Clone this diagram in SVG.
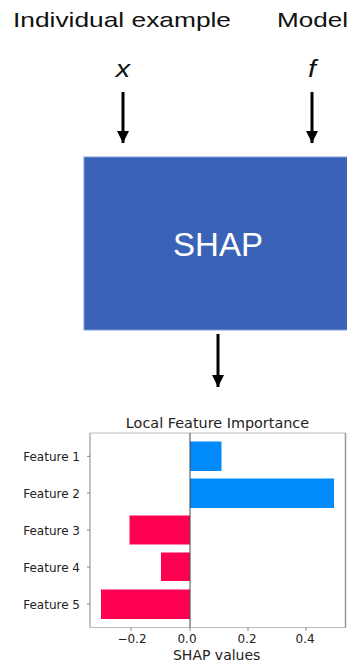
<svg xmlns="http://www.w3.org/2000/svg" width="347" height="662" viewBox="0 0 347 662">
<style>
.hdr{font-family:"Liberation Sans",Arial,sans-serif;font-size:21px;fill:#111}
.var{font-family:"Liberation Sans",Arial,sans-serif;font-size:23px;font-style:italic;fill:#111}
.conn{stroke:#000;stroke-width:3;fill:none}
.mpl{font-family:"DejaVu Sans",sans-serif;fill:#222}
.ylab{font-size:12px;text-anchor:end}
.xlab{font-size:12px;text-anchor:middle}
.pos{fill:#008AFA}
.neg{fill:#FF0051}
.tick{stroke:#666;stroke-width:0.8}
</style>
<defs>
<marker id="ah" markerUnits="userSpaceOnUse" markerWidth="12" markerHeight="12" viewBox="0 0 12 12" refX="12" refY="6" orient="auto">
<path d="M0,0 L12,6 L0,12 Z" fill="#000"/>
</marker>
</defs>
<g id="label-input">
<text class="hdr" x="13" y="27" textLength="218" lengthAdjust="spacingAndGlyphs">Individual example</text>
<g transform="translate(123,0) scale(1.25,1)"><text class="var" x="0" y="77" text-anchor="middle">x</text></g>
</g>
<g id="label-model">
<text class="hdr" x="277" y="27" textLength="71" lengthAdjust="spacingAndGlyphs">Model</text>
<g transform="translate(312,0) scale(1.25,1)"><text class="var" x="0" y="77" text-anchor="middle">f</text></g>
</g>
<g id="shap">
<rect x="84" y="157" width="270" height="173" fill="#3A63B8" stroke="#7E9DD8" stroke-width="1"/>
<text x="218" y="256" text-anchor="middle" font-family="'Liberation Sans',Arial,sans-serif" font-size="33" fill="#fff">SHAP</text>
</g>
<g id="connectors">
<line class="conn" x1="123" y1="92" x2="123" y2="143" marker-end="url(#ah)"/>
<line class="conn" x1="312" y1="92" x2="312" y2="143" marker-end="url(#ah)"/>
<line class="conn" x1="218" y1="334" x2="218" y2="387" marker-end="url(#ah)"/>
</g>
<g id="chart">
<text class="mpl" x="217.5" y="428" text-anchor="middle" font-size="14.4">Local Feature Importance</text>
<rect class="pos" x="190" y="441.5" width="31.5" height="29.5"/>
<rect class="pos" x="190" y="478.5" width="144" height="29.5"/>
<rect class="neg" x="129.5" y="515.5" width="60.5" height="29"/>
<rect class="neg" x="161" y="552.5" width="29" height="28.5"/>
<rect class="neg" x="101" y="589.5" width="89" height="29.5"/>
<line x1="90" y1="433" x2="346" y2="433" stroke="#bbb" stroke-width="1"/>
<line x1="90" y1="627.5" x2="346" y2="627.5" stroke="#bbb" stroke-width="1"/>
<line x1="90" y1="433" x2="90" y2="627.5" stroke="#888" stroke-width="1"/>
<line x1="345.5" y1="433" x2="345.5" y2="627.5" stroke="#999" stroke-width="1.5"/>
<line x1="190" y1="433" x2="190" y2="627.5" stroke="#444" stroke-width="1"/>
<g class="tick">
<line x1="87" y1="456.3" x2="90" y2="456.3"/>
<line x1="87" y1="493" x2="90" y2="493"/>
<line x1="87" y1="530" x2="90" y2="530"/>
<line x1="87" y1="567" x2="90" y2="567"/>
<line x1="87" y1="604" x2="90" y2="604"/>
<line x1="131" y1="627.5" x2="131" y2="631"/>
<line x1="190" y1="627.5" x2="190" y2="631"/>
<line x1="248" y1="627.5" x2="248" y2="631"/>
<line x1="306" y1="627.5" x2="306" y2="631"/>
</g>
<g class="mpl ylab">
<text x="80" y="460.5">Feature 1</text>
<text x="80" y="497.5">Feature 2</text>
<text x="80" y="534.5">Feature 3</text>
<text x="80" y="571.5">Feature 4</text>
<text x="80" y="608.5">Feature 5</text>
</g>
<g class="mpl xlab">
<text x="132" y="643">−0.2</text>
<text x="187" y="643">0.0</text>
<text x="247" y="643">0.2</text>
<text x="305" y="643">0.4</text>
</g>
<text class="mpl" x="216.7" y="659.5" text-anchor="middle" font-size="14">SHAP values</text>
</g>
</svg>
